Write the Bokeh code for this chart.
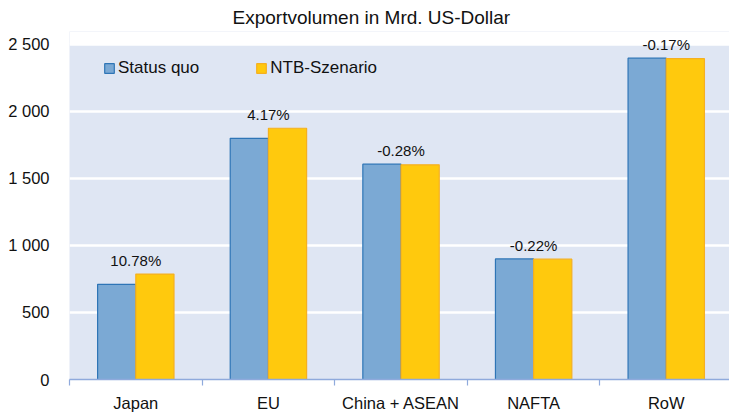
from bokeh.plotting import figure
from bokeh.models import (ColumnDataSource, FixedTicker, Range1d, Legend, LegendItem,
                          LabelSet, BoxAnnotation)
from bokeh.core.properties import value
from bokeh.embed import file_html
from bokeh.resources import INLINE

categories = ["Japan", "EU", "China + ASEAN", "NAFTA", "RoW"]
status_quo = [710, 1800, 1607, 900, 2398]
ntb_szenario = [787, 1875, 1602, 898, 2394]
pct_labels = ["10.78%", "4.17%", "-0.28%", "-0.22%", "-0.17%"]
y_ticks = [0, 500, 1000, 1500, 2000, 2500]
y_tick_labels = ["0", "500", "1 000", "1 500", "2 000", "2 500"]
Y_MAX = 2500

FONT = "Liberation Sans"
BAR_W = 0.288

n = len(categories)
centers = [i + 0.5 for i in range(n)]
src = ColumnDataSource(dict(
    xs=[c - BAR_W / 2 for c in centers],
    xn=[c + BAR_W / 2 for c in centers],
    xc=centers,
    sq=status_quo,
    ntb=ntb_szenario,
    top=[max(a, b) for a, b in zip(status_quo, ntb_szenario)],
    lbl=pct_labels,
))

p = figure(width=729, height=414, output_backend="svg", toolbar_location=None,
           x_range=Range1d(0, 4.977), y_range=Range1d(0, 2597),
           min_border_left=69, min_border_right=0, min_border_top=31, min_border_bottom=34)
p.background_fill_color = "#DFE6F3"
p.border_fill_color = "white"
p.outline_line_color = None

p.title.text = "Exportvolumen in Mrd. US-Dollar"
p.title.align = "left"
p.title.offset = 163
p.title.text_font = FONT
p.title.text_font_size = "19px"
p.title.text_font_style = "normal"
p.title.text_color = "#111111"
p.title.standoff = 7

r1 = p.vbar(x="xs", top="sq", width=BAR_W, source=src, fill_color="#7BA9D4",
            line_color="#2E75B6", line_width=1.2)
r2 = p.vbar(x="xn", top="ntb", width=BAR_W, source=src, fill_color="#FFC90D",
            line_color="#F5B020", line_width=1.2)

# white area above the value axis maximum (plot area ends at 2 500)
p.add_layout(BoxAnnotation(bottom=Y_MAX, fill_color="white", fill_alpha=1, line_color=None))

labels = LabelSet(x="xc", y="top", text="lbl", source=src, text_align="center",
                  text_baseline="bottom", y_offset=5, text_font=value(FONT),
                  text_font_size=value("15px"), text_color=value("#111111"))
p.add_layout(labels)

# axes
p.xaxis.ticker = FixedTicker(ticks=centers, minor_ticks=list(range(n + 1)))
p.xaxis.major_label_overrides = {c: cat for c, cat in zip(centers, categories)}
p.xaxis.major_tick_line_color = None
p.xaxis.major_tick_out = 0
p.xaxis.minor_tick_line_color = "#8FAADC"
p.xaxis.minor_tick_out = 6
p.xaxis.minor_tick_in = 0
p.xaxis.minor_tick_line_width = 1.2
p.xaxis.axis_line_color = "#8FAADC"
p.xaxis.axis_line_width = 1.5
p.xaxis.major_label_text_font = FONT
p.xaxis.major_label_text_font_size = "16.5px"
p.xaxis.major_label_text_color = "#111111"
p.xaxis.major_label_standoff = 8

p.yaxis.ticker = FixedTicker(ticks=y_ticks, minor_ticks=[])
p.yaxis.major_label_overrides = {t: l for t, l in zip(y_ticks, y_tick_labels)}
p.yaxis.axis_line_color = None
p.yaxis.major_tick_line_color = None
p.yaxis.minor_tick_line_color = None
p.yaxis.major_label_text_font = FONT
p.yaxis.major_label_text_font_size = "16.5px"
p.yaxis.major_label_text_color = "#111111"
p.yaxis.major_label_standoff = 14

p.xgrid.grid_line_color = None
p.ygrid.ticker = FixedTicker(ticks=y_ticks[1:])
p.ygrid.grid_line_color = "white"
p.ygrid.grid_line_width = 2.6

legend = Legend(items=[LegendItem(label="Status quo", renderers=[r1]),
                       LegendItem(label="NTB-Szenario", renderers=[r2])],
                orientation="horizontal", location=(34, 301),
                padding=0, margin=0, spacing=56, label_standoff=3,
                glyph_width=12, glyph_height=12,
                background_fill_alpha=0, border_line_color=None,
                label_text_font=FONT, label_text_font_size="17px",
                label_text_color="#111111")
p.add_layout(legend, "center")

open("out.html", "w").write(file_html(p, INLINE))
